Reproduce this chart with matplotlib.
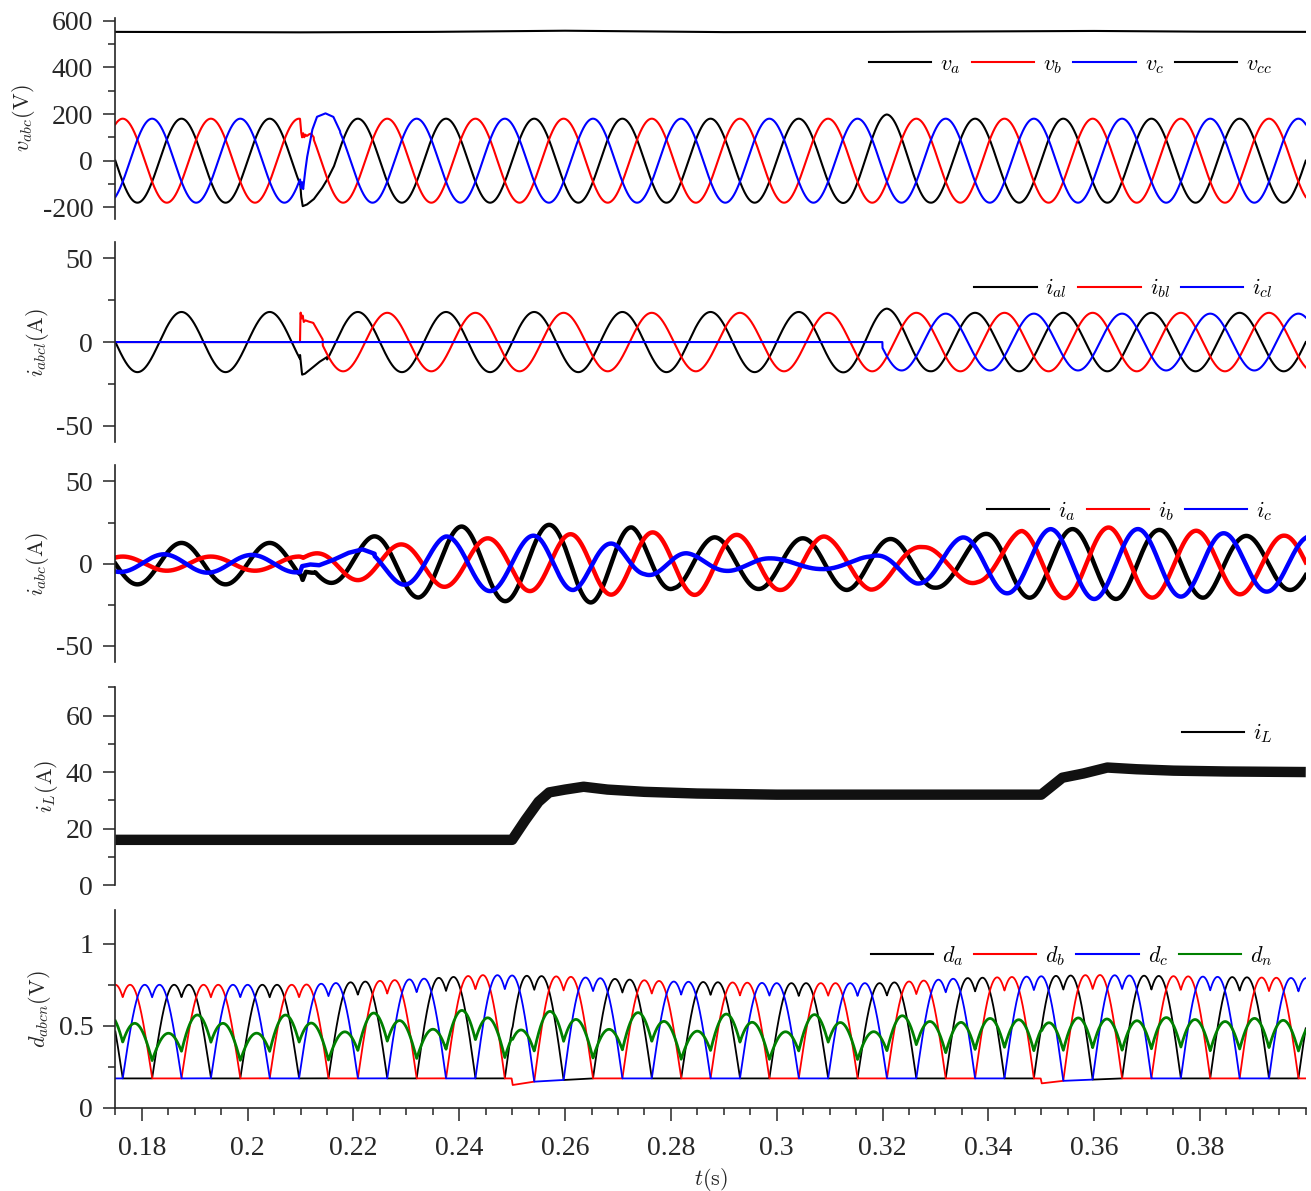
import numpy as np
import matplotlib
matplotlib.use('Agg')
from matplotlib import pyplot as plt
from matplotlib.lines import Line2D
from matplotlib.ticker import MultipleLocator

# grid frequency read from the period (~0.0167 s)
F_GRID = 60.0
W = 2 * np.pi * F_GRID
T0, T1 = 0.175, 0.4

# ---------------- panel 1: v_abc, v_cc (peak amplitude knots, V)
va_amp_t = [0.175, 0.312, 0.3208, 0.329, 0.4]
va_amp = [180, 180, 198, 180, 180]
vb_amp_t = [0.175, 0.4]
vb_amp = [180, 180]
vc_amp_t = [0.175, 0.4]
vc_amp = [180, 180]
# disturbance at 0.21 s, read point by point
va_dist_t = [0.2099, 0.2101, 0.2104, 0.2112, 0.2125, 0.2140, 0.2150, 0.2163]
va_dist = [-85, -150, -195, -188, -165, -120, -83, -25]
vb_dist_t = [0.2099, 0.2101, 0.2103, 0.2105, 0.2107, 0.2109, 0.2112, 0.2116, 0.2120, 0.2125]
vb_dist = [180, 125, 100, 118, 100, 112, 106, 113, 116, 100]
vc_dist_t = [0.2099, 0.2101, 0.2103, 0.2105, 0.2108, 0.2112, 0.2122, 0.2131, 0.2147, 0.2162, 0.2175]
vc_dist = [-79, -118, -92, -122, -60, 10, 131, 188, 203, 188, 125]
vcc_t = [0.175, 0.21, 0.235, 0.26, 0.29, 0.32, 0.36, 0.38, 0.4]
vcc = [552, 550, 552, 557, 551, 552, 556, 553, 552]

# ---------------- panel 2: load currents (A)
ial_amp_t = [0.175, 0.312, 0.3208, 0.329, 0.4]
ial_amp = [18, 18, 20, 17.5, 17.5]
ibl_on, ibl_amp = 0.2099, 17.5
icl_on, icl_amp = 0.3200, 17.0
ial_dist_t = [0.2099, 0.2101, 0.2103, 0.2108, 0.2120, 0.2135, 0.2150]
ial_dist = [-7.5, -14, -19.5, -19, -16, -12, -9]
ibl_dist_t = [0.2099, 0.2100, 0.2102, 0.2104, 0.2106, 0.2109, 0.2113, 0.2118, 0.2124, 0.2134, 0.2142]
ibl_dist = [0, 18, 14, 16, 12, 13, 12.5, 12, 11.5, 6, 1.5]

# ---------------- panel 3: source currents, peak knots (A) and lag (s)
ia_amp_t = [0.175, 0.2095, 0.2128, 0.2237, 0.2324, 0.2406, 0.2486, 0.2571, 0.2649, 0.2727,
            0.2806, 0.2882, 0.2966, 0.305, 0.3133, 0.3212, 0.3299, 0.3392, 0.3487, 0.3559,
            0.3649, 0.3718, 0.3811, 0.3875, 0.397, 0.4]
ia_amp = [12.6, 12.6, 10, 16.5, 20.7, 22.6, 22.8, 23.6, 23.6, 22, 15, 16, 15.4, 15.4, 16,
          15, 14.6, 18, 21, 21, 21.5, 20.5, 20.7, 17, 16, 16]
ia_lag_t = [0.175, 0.2095, 0.2105, 0.26, 0.275, 0.285, 0.33, 0.34, 0.37, 0.4]
ia_lag = [0.0, 0.0, 0.003, 0.0028, 0.0015, 0.0008, 0.0007, 0.002, 0.0015, 0.0012]
ia_dist_t = [0.2095, 0.2101, 0.2104, 0.2110, 0.2120, 0.2128]
ia_dist = [-5.3, -7, -10, -5, -5.5, -5.5]

ib_amp_t = [0.175, 0.2095, 0.2182, 0.2295, 0.2366, 0.2454, 0.2534, 0.2617, 0.2699, 0.2761,
            0.2851, 0.2925, 0.3008, 0.3088, 0.3177, 0.3276, 0.338, 0.3464, 0.3546, 0.3631,
            0.3706, 0.3793, 0.3873, 0.396, 0.4]
ib_amp = [4.3, 4.3, 9.5, 11.8, 14, 15.4, 16.7, 18, 19, 19, 19, 17.5, 16, 16.5, 16, 10, 12,
          20, 21, 22, 20.7, 20, 18.7, 17, 17]
ib_lag_t = [0.175, 0.2095, 0.2105, 0.25, 0.27, 0.29, 0.31, 0.325, 0.345, 0.4]
ib_lag = [0.0, 0.0, 0.0028, 0.0022, 0.0005, -0.0005, -0.0008, 0.001, 0.003, 0.0029]

ic_amp_t = [0.175, 0.1842, 0.2008, 0.2099, 0.2217, 0.2299, 0.2374, 0.2461, 0.254, 0.2617,
            0.2692, 0.275, 0.283, 0.2903, 0.2989, 0.3083, 0.3177, 0.3264, 0.3351, 0.3434,
            0.3518, 0.3602, 0.3685, 0.3768, 0.3844, 0.3927, 0.4]
ic_amp = [5, 5.7, 5.3, 5.3, 8.7, 13, 16.5, 16.7, 17, 16, 12, 7, 6.3, 4.5, 3.2, 3.3, 4.3,
          12, 15.9, 18, 21, 21.5, 21, 20, 18.5, 17, 16.5]
ic_lag_t = [0.175, 0.2095, 0.2125, 0.255, 0.27, 0.283, 0.30, 0.315, 0.335, 0.37, 0.4]
ic_lag = [0.0022, 0.0022, 0.006, 0.0054, 0.0035, 0.001, 0.0003, 0.0024, 0.0032, 0.003, 0.0022]
ic_dist_t = [0.2099, 0.2103, 0.2118, 0.2135, 0.2160, 0.2190, 0.2217, 0.2240]
ic_dist = [-5.3, -1.5, -0.5, -1, 2, 6.5, 8.7, 6]

# ---------------- panel 4: i_L (A)
il_t = [0.175, 0.2500, 0.2525, 0.2550, 0.2570, 0.2600, 0.2635, 0.2680, 0.2750, 0.2850,
        0.3000, 0.3500, 0.3520, 0.3540, 0.3580, 0.3625, 0.3680, 0.3750, 0.3850, 0.4]
il = [16, 16, 23, 29.5, 32.8, 33.8, 34.8, 33.8, 33, 32.4, 32, 32, 35, 38, 39.5, 41.6, 41,
      40.5, 40.2, 40]

# ---------------- panel 5: duty cycles
d_floor_t = [0.175, 0.2499, 0.2501, 0.2540, 0.2650, 0.3499, 0.3501, 0.3540, 0.3650, 0.4]
d_floor = [0.18, 0.18, 0.14, 0.16, 0.18, 0.18, 0.15, 0.165, 0.18, 0.18]
d_peak_t = [0.175, 0.21, 0.235, 0.245, 0.26, 0.28, 0.30, 0.32, 0.335, 0.36, 0.38, 0.4]
d_peak = [0.75, 0.75, 0.79, 0.81, 0.80, 0.77, 0.76, 0.76, 0.79, 0.81, 0.80, 0.79]
dn_mod_t = [0.175, 0.32, 0.335, 0.4]
dn_mod = [0.065, 0.06, 0.012, 0.012]

# axis ticks per panel
yt1 = [-200, 0, 200, 400, 600]
yt2 = [-50, 0, 50]
yt4 = [0, 20, 40, 60]
yt5 = [0, 0.5, 1]
xt = [0.18, 0.2, 0.22, 0.24, 0.26, 0.28, 0.3, 0.32, 0.34, 0.36, 0.38]

PHASE = {'a': 0.0, 'b': -2 * np.pi / 3, 'c': 2 * np.pi / 3}
AX_COL = '#262626'


def wave(t, amp_t, amp, ph, lag_t=None, lag=None):
    a = np.interp(t, amp_t, amp)
    d = np.interp(t, lag_t, lag) if lag_t is not None else 0.0
    return a * np.sin(W * (t - d) + ph)


def splice(t, y, pt, pv):
    m = (t >= pt[0]) & (t <= pt[-1])
    y[m] = np.interp(t[m], pt, pv)
    return y


def fmt(v):
    return ('%g' % v)


def style(ax, ylab, ylim, yticks, minor, last=False):
    ax.set_xlim(T0, T1)
    ax.set_ylim(*ylim)
    ax.set_yticks(yticks)
    ax.set_yticklabels([fmt(v) for v in yticks])
    ax.yaxis.set_minor_locator(MultipleLocator(minor))
    ax.set_xticks(xt)
    ax.set_xticklabels([fmt(v) for v in xt])
    ax.xaxis.set_minor_locator(MultipleLocator(0.005))
    for s in ['top', 'right']:
        ax.spines[s].set_visible(False)
    for s in ['left', 'bottom']:
        ax.spines[s].set_color(AX_COL)
        ax.spines[s].set_linewidth(1.2)
    if not last:
        ax.spines['bottom'].set_visible(False)
        ax.tick_params(axis='x', which='both', bottom=False, labelbottom=False)
    ax.tick_params(which='major', direction='out', length=9, width=1.1, colors=AX_COL,
                   labelsize=20, pad=7)
    ax.tick_params(which='minor', direction='out', length=5, width=1.1, colors=AX_COL)
    ax.tick_params(axis='x', pad=11)
    ax.set_ylabel(ylab, fontsize=16, color=AX_COL)


def legend(ax, names, colors):
    hs = [Line2D([], [], color=c, lw=1.5) for c in colors]
    ax.legend(hs, names, loc='center right', bbox_to_anchor=(0.972, 0.768), ncol=len(names),
              frameon=False, fontsize=16, handlelength=2.8, handletextpad=0.4,
              columnspacing=0.5, borderpad=0, borderaxespad=0)


def main():
    plt.rcParams['mathtext.fontset'] = 'cm'
    plt.rcParams['font.family'] = 'Liberation Serif'
    plt.rcParams['axes.unicode_minus'] = False
    t = np.linspace(T0, T1, 8000)

    fig = plt.figure(figsize=(13.11, 11.91), dpi=100)
    left, width = 0.088, 0.908
    boxes = [(0.8161, 0.1685), (0.6286, 0.1684), (0.4439, 0.1657), (0.2569, 0.1660),
             (0.0697, 0.1662)]
    axs = [fig.add_axes([left, b, width, h]) for b, h in boxes]

    # panel 1
    ax = axs[0]
    va = splice(t, wave(t, va_amp_t, va_amp, PHASE['a']), va_dist_t, va_dist)
    vb = splice(t, wave(t, vb_amp_t, vb_amp, PHASE['b']), vb_dist_t, vb_dist)
    vc = splice(t, wave(t, vc_amp_t, vc_amp, PHASE['c']), vc_dist_t, vc_dist)
    ax.plot(vcc_t, vcc, color='k', lw=1.5)
    ax.plot(t, va, color='k', lw=1.5)
    ax.plot(t, vb, color='r', lw=1.5)
    ax.plot(t, vc, color='b', lw=1.5)
    style(ax, r'$v_{abc}(\mathrm{V})$', (-250, 610), yt1, 100)
    legend(ax, [r'$v_a$', r'$v_b$', r'$v_c$', r'$v_{cc}$'], ['k', 'r', 'b', 'k'])

    # panel 2
    ax = axs[1]
    ial = splice(t, wave(t, ial_amp_t, ial_amp, PHASE['a']), ial_dist_t, ial_dist)
    ibl = np.where(t < ibl_on, 0.0, ibl_amp * np.sin(W * t + PHASE['b']))
    ibl = splice(t, ibl, ibl_dist_t, ibl_dist)
    icl = np.where(t < icl_on, 0.0, icl_amp * np.sin(W * t + PHASE['c']))
    ax.plot(t, ial, color='k', lw=1.5)
    ax.plot(t, ibl, color='r', lw=1.5)
    ax.plot(t, icl, color='b', lw=1.5)
    style(ax, r'$i_{abcl}(\mathrm{A})$', (-60, 60), yt2, 25)
    legend(ax, [r'$i_{al}$', r'$i_{bl}$', r'$i_{cl}$'], ['k', 'r', 'b'])

    # panel 3
    ax = axs[2]
    ia = splice(t, wave(t, ia_amp_t, ia_amp, PHASE['a'], ia_lag_t, ia_lag), ia_dist_t, ia_dist)
    ib = wave(t, ib_amp_t, ib_amp, PHASE['b'], ib_lag_t, ib_lag)
    ic = splice(t, wave(t, ic_amp_t, ic_amp, PHASE['c'], ic_lag_t, ic_lag), ic_dist_t, ic_dist)
    ax.plot(t, ia, color='k', lw=3.2)
    ax.plot(t, ib, color='r', lw=3.2)
    ax.plot(t, ic, color='b', lw=3.2)
    style(ax, r'$i_{abc}(\mathrm{A})$', (-60, 60), yt2, 25)
    legend(ax, [r'$i_a$', r'$i_b$', r'$i_c$'], ['k', 'r', 'b'])

    # panel 4
    ax = axs[3]
    ax.plot(il_t, il, color='#111111', lw=7.5, solid_capstyle='butt')
    style(ax, r'$i_L(\mathrm{A})$', (0, 70), yt4, 10)
    legend(ax, [r'$i_L$'], ['k'])

    # panel 5
    ax = axs[4]
    fl = np.interp(t, d_floor_t, d_floor)
    g = (np.interp(t, d_peak_t, d_peak) - fl) / np.sqrt(3)
    ma = np.sin(W * t + PHASE['a'])
    mb = np.sin(W * t + PHASE['b'])
    mc = np.sin(W * t + PHASE['c'])
    mmin = np.minimum(np.minimum(ma, mb), mc)
    da = fl + g * (ma - mmin)
    db = fl + g * (mb - mmin)
    dc = fl + g * (mc - mmin)
    dn = fl + g * (-mmin) - np.interp(t, dn_mod_t, dn_mod) * np.cos(W * t)
    ax.plot(t, da, color='k', lw=1.3)
    ax.plot(t, db, color='r', lw=1.3)
    ax.plot(t, dc, color='b', lw=1.3)
    ax.plot(t, dn, color='g', lw=2.0)
    style(ax, r'$d_{abcn}(\mathrm{V})$', (0, 1.205), yt5, 0.25, last=True)
    legend(ax, [r'$d_a$', r'$d_b$', r'$d_c$', r'$d_n$'], ['k', 'r', 'b', 'g'])
    ax.set_xlabel(r'$t(\mathrm{s})$', fontsize=16, color=AX_COL, labelpad=4)

    fig.savefig('out.png', dpi=100)


if __name__ == '__main__':
    main()
